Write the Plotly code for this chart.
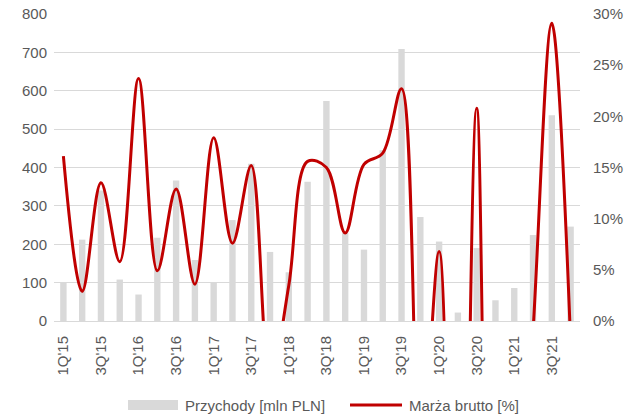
import plotly.graph_objects as go

quarters = [f"{q}Q'{y}" for y in range(15, 22) for q in range(1, 5)]
revenue = [101, 212, 340, 108, 69, 217, 366, 159, 100, 263, 410, 180, 127, 363,
           573, 230, 186, 445, 709, 271, 207, 22, 190, 54, 86, 224, 536, 246]
margin = [16.1, 2.9, 13.5, 5.8, 23.7, 4.9, 12.9, 3.6, 17.9, 7.6, 15.2, -6.0, 3.5, 15.6,
          15.0, 8.6, 15.3, 16.4, 22.7, -15.0, 6.8, -60.0, 20.8, -40.0, -30.0, -1.0, 29.1, -2.0]
tick_labels = [q if i % 2 == 0 else "" for i, q in enumerate(quarters)]
legend_names = ["Przychody [mln PLN]", "Marża brutto [%]"]

font_family = "Liberation Sans, Arial, sans-serif"
grey_text = "#595959"
bar_color = "#d9d9d9"
line_color = "#c00000"

W, H = 639, 415
L, R, T, B = 54, 59, 14, 94
pw, ph = W - L - R, H - T - B


def px_x(px):
    return (px - L) / pw


def px_y(py):
    return (H - B - py) / ph


fig = go.Figure()
fig.add_trace(go.Bar(
    x=quarters, y=revenue, name=legend_names[0],
    marker=dict(color=bar_color, line=dict(width=0)),
    yaxis="y", showlegend=False,
))
fig.add_trace(go.Scatter(
    x=quarters, y=margin, name=legend_names[1],
    mode="lines", line=dict(color=line_color, width=3, shape="spline", smoothing=1.0),
    yaxis="y2", showlegend=False,
))

# custom legend (symbols + real text)
ly = 405
shapes = [
    dict(type="rect", xref="paper", yref="paper",
         x0=px_x(128), x1=px_x(178), y0=px_y(ly + 5), y1=px_y(ly - 5),
         fillcolor=bar_color, line=dict(width=0)),
    dict(type="line", xref="paper", yref="paper",
         x0=px_x(350), x1=px_x(402), y0=px_y(ly), y1=px_y(ly),
         line=dict(color=line_color, width=3)),
]
annotations = [
    dict(xref="paper", yref="paper", x=px_x(183), y=px_y(ly), xanchor="left", yanchor="middle",
         text=legend_names[0], showarrow=False, font=dict(size=15, color=grey_text)),
    dict(xref="paper", yref="paper", x=px_x(407), y=px_y(ly), xanchor="left", yanchor="middle",
         text=legend_names[1], showarrow=False, font=dict(size=15, color=grey_text)),
]

fig.update_layout(
    width=W, height=H,
    margin=dict(l=L, r=R, t=T, b=B, autoexpand=False),
    paper_bgcolor="white", plot_bgcolor="white",
    font=dict(family=font_family, size=15, color=grey_text),
    bargap=0.66,
    showlegend=False,
    shapes=shapes, annotations=annotations,
    xaxis=dict(
        type="category", tickmode="array", tickvals=quarters, ticktext=tick_labels,
        tickangle=-90, showgrid=False, showline=True, linecolor=bar_color, linewidth=1,
        ticks="", tickfont=dict(size=15, color=grey_text), automargin=False,
        ticklabelstandoff=8,
    ),
    yaxis=dict(
        range=[0, 800], dtick=100, showgrid=True, gridcolor=bar_color, gridwidth=1,
        zeroline=False, ticks="", tickfont=dict(size=15, color=grey_text), automargin=False,
        ticklabelstandoff=6,
    ),
    yaxis2=dict(
        range=[0, 30], dtick=5, overlaying="y", side="right", showgrid=False,
        zeroline=False, ticksuffix="%", ticks="", tickfont=dict(size=15, color=grey_text),
        automargin=False, ticklabelstandoff=12,
    ),
)

fig.write_html("out.html", config={"displayModeBar": False},
               post_script="document.body.style.margin='0';document.body.style.overflow='hidden';")
